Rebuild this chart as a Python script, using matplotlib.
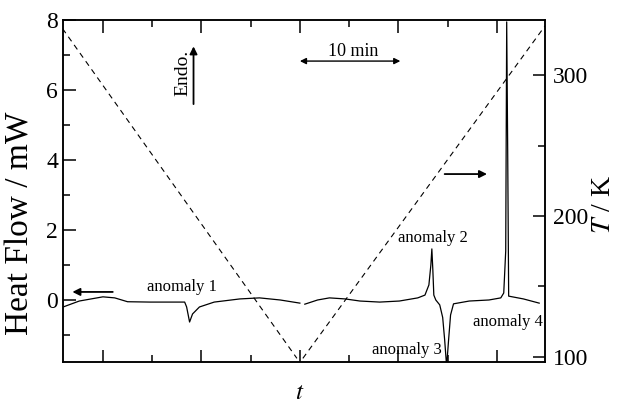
import numpy as np
import matplotlib
matplotlib.use('Agg')
import matplotlib.pyplot as plt
from matplotlib.ticker import MultipleLocator, NullFormatter

plt.rcParams['font.family'] = ['Liberation Serif', 'DejaVu Serif']
plt.rcParams['mathtext.fontset'] = 'stix'

# heat flow trace, two segments (cooling / heating), time in min
t_cool = [5.96, 7.6, 10.0, 11.2, 12.5, 14.8, 18.3, 18.5, 18.8, 19.1, 19.8,
          21.3, 23.9, 25.9, 28.0, 30.0]
hf_cool = [-0.2, -0.03, 0.09, 0.06, -0.05, -0.06, -0.06, -0.2, -0.63, -0.4,
           -0.2, -0.06, 0.03, 0.06, 0.0, -0.09]
t_heat = [30.5, 31.8, 33.0, 34.6, 36.1, 38.1, 40.1, 41.97, 42.7, 43.1, 43.3,
          43.4, 43.5, 43.6, 43.8, 44.2, 44.5, 44.7, 44.9, 45.1, 45.3, 45.6,
          47.2, 49.2, 50.4, 50.7, 50.9, 51.0, 51.1, 51.2, 52.7, 54.3]
hf_heat = [-0.12, 0.0, 0.06, 0.03, -0.03, -0.06, -0.03, 0.06, 0.14, 0.43, 1.0,
           1.46, 0.86, 0.14, 0.0, -0.14, -0.5, -1.14, -1.9, -1.14, -0.43, -0.11,
           -0.03, 0.0, 0.06, 0.2, 1.4, 7.95, 4.3, 0.11, 0.03, -0.09]

# temperature program (dashed)
t_T1 = [5.9, 29.7]
T1 = [333, 99]
t_T2 = [30.3, 54.9]
T2 = [99, 335]

labels = ['anomaly 1', 'anomaly 2', 'anomaly 3', 'anomaly 4']
label_t = [18.0, 43.5, 40.9, 51.1]
label_hf = [0.37, 1.77, -1.43, -0.63]

fig = plt.figure(figsize=(6.17, 4.03), dpi=100)
ax = fig.add_axes([0.102, 0.102, 0.781, 0.848])
ax2 = ax.twinx()

ax.plot(t_cool, hf_cool, color='black', lw=0.9)
ax.plot(t_heat, hf_heat, color='black', lw=0.9)
ax2.plot(t_T1, T1, color='black', lw=0.8, ls=(0, (5, 4)))
ax2.plot(t_T2, T2, color='black', lw=0.8, ls=(0, (5, 4)))

xmin, xmax = 5.94, 54.87
ax.set_xlim(xmin, xmax)
ax.set_ylim(-1.77, 8)
ax2.set_ylim(96.5, 339)

ax.xaxis.set_major_locator(MultipleLocator(10))
ax.xaxis.set_minor_locator(MultipleLocator(5))
ax.xaxis.set_major_formatter(NullFormatter())
ax.yaxis.set_major_locator(MultipleLocator(2))
ax.yaxis.set_minor_locator(MultipleLocator(1))
ax2.yaxis.set_major_locator(MultipleLocator(100))
ax2.yaxis.set_minor_locator(MultipleLocator(50))

ax.tick_params(axis='x', which='both', direction='in', top=True, bottom=True)
ax.tick_params(axis='y', which='both', direction='in', left=True, right=False,
               labelsize=17, pad=3.5)
ax.tick_params(which='major', length=9, width=1.1)
ax.tick_params(which='minor', length=5, width=1.1)
ax2.tick_params(axis='y', which='both', direction='in', labelsize=17, pad=6)
ax2.tick_params(which='major', length=9, width=1.1)
ax2.tick_params(which='minor', length=5, width=1.1)
for a in (ax, ax2):
    for s in a.spines.values():
        s.set_linewidth(1.1)

ax.set_ylabel('Heat Flow / mW', fontsize=24)
ax.yaxis.set_label_coords(-0.056, 0.406)
ax2.set_ylabel('$T$ / K', fontsize=20)
ax2.yaxis.set_label_coords(1.096, 0.46)
ax.set_xlabel('$t$', fontsize=18)
ax.xaxis.set_label_coords((30 - xmin) / (xmax - xmin), -0.06)

for name, tx, hy in zip(labels, label_t, label_hf):
    ax.text(tx, hy, name, fontsize=12, ha='center', va='center')

arrow = dict(arrowstyle='-|>', color='black', lw=1.3, mutation_scale=11,
             shrinkA=0, shrinkB=0)
ax.annotate('', xy=(6.9, 0.23), xytext=(11.0, 0.23), arrowprops=arrow)
ax.annotate('', xy=(49.0, 3.6), xytext=(44.7, 3.6), arrowprops=arrow)
ax.annotate('', xy=(19.2, 7.25), xytext=(19.2, 5.6), arrowprops=arrow)
ax.text(18.1, 6.5, 'Endo.', fontsize=14, rotation=90, ha='center', va='center')
ax.annotate('', xy=(30.0, 6.83), xytext=(40.2, 6.83),
            arrowprops=dict(arrowstyle='<|-|>', color='black', lw=1.0,
                            mutation_scale=9, shrinkA=0, shrinkB=0))
ax.text(35.4, 7.1, '10 min', fontsize=13, ha='center', va='center')

fig.savefig('out.png', dpi=100)
